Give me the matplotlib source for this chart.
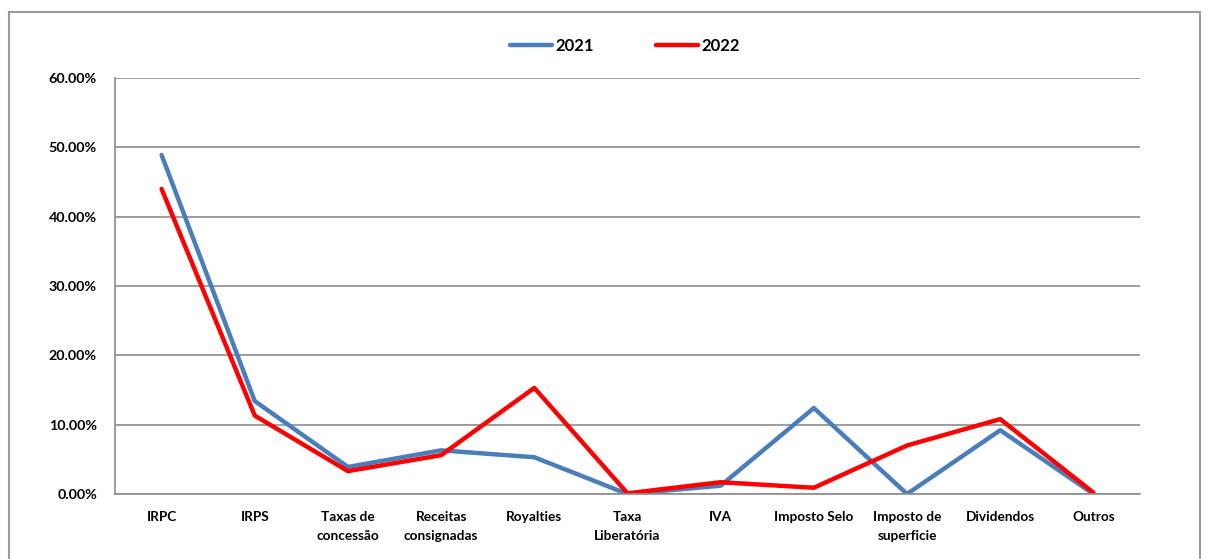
import matplotlib
matplotlib.use("Agg")
import matplotlib.pyplot as plt
from matplotlib.patches import Rectangle
from matplotlib.ticker import FuncFormatter

categories = ["IRPC", "IRPS", "Taxas de\nconcessão", "Receitas\nconsignadas", "Royalties",
              "Taxa\nLiberatória", "IVA", "Imposto Selo", "Imposto de\nsuperficie", "Dividendos", "Outros"]
series_2021 = [48.9, 13.4, 3.9, 6.3, 5.3, 0.0, 1.2, 12.4, 0.0, 9.2, 0.0]
series_2022 = [44.0, 11.3, 3.3, 5.6, 15.3, 0.1, 1.7, 0.9, 7.0, 10.8, 0.2]
yticks = [0, 10, 20, 30, 40, 50, 60]

plt.rcParams['font.family'] = ['Lato', 'DejaVu Sans']
W, H = 1212, 559
fig = plt.figure(figsize=(W / 100, H / 100), dpi=100)
fig.patches.append(Rectangle((9 / W, -0.1), (1200 - 9) / W, 1.1 - 12 / H, transform=fig.transFigure,
                             fill=False, edgecolor='#9a9a9a', linewidth=1.5))

left, right, top, bottom = 115, 1140, 78, 494
ax = fig.add_axes([left / W, 1 - bottom / H, (right - left) / W, (bottom - top) / H])
x = list(range(len(categories)))
ax.plot(x, series_2021, color='#4a7ebb', linewidth=3.2, label='2021', solid_capstyle='round')
ax.plot(x, series_2022, color='#ff0000', linewidth=3.2, label='2022', solid_capstyle='round')
ax.set_xlim(-0.5, len(categories) - 0.5)
ax.set_ylim(0, 60)
ax.set_yticks(yticks)
ax.yaxis.set_major_formatter(FuncFormatter(lambda v, p: f"{v:.2f}%"))
ax.set_xticks(x)
ax.set_xticklabels(categories, fontsize=9.8, fontweight='bold', linespacing=1.75)
for lab in ax.get_yticklabels():
    lab.set_fontsize(10.3)
    lab.set_fontweight('bold')
ax.tick_params(axis='x', length=0, pad=12)
ax.tick_params(axis='y', length=0, pad=13)
ax.grid(axis='y', color='#8c8c8c', linewidth=1.2)
ax.set_axisbelow(True)
for s in ['top', 'right']:
    ax.spines[s].set_visible(False)
for s in ['left', 'bottom']:
    ax.spines[s].set_color('#8c8c8c')
    ax.spines[s].set_linewidth(1.2)

leg = fig.legend(loc='center', bbox_to_anchor=(625 / W, 1 - 46 / H), ncol=2, frameon=False,
                 prop={'weight': 'bold', 'size': 12}, handlelength=2.5, handletextpad=0.25,
                 columnspacing=3.7)

fig.savefig('out.png', dpi=100)
